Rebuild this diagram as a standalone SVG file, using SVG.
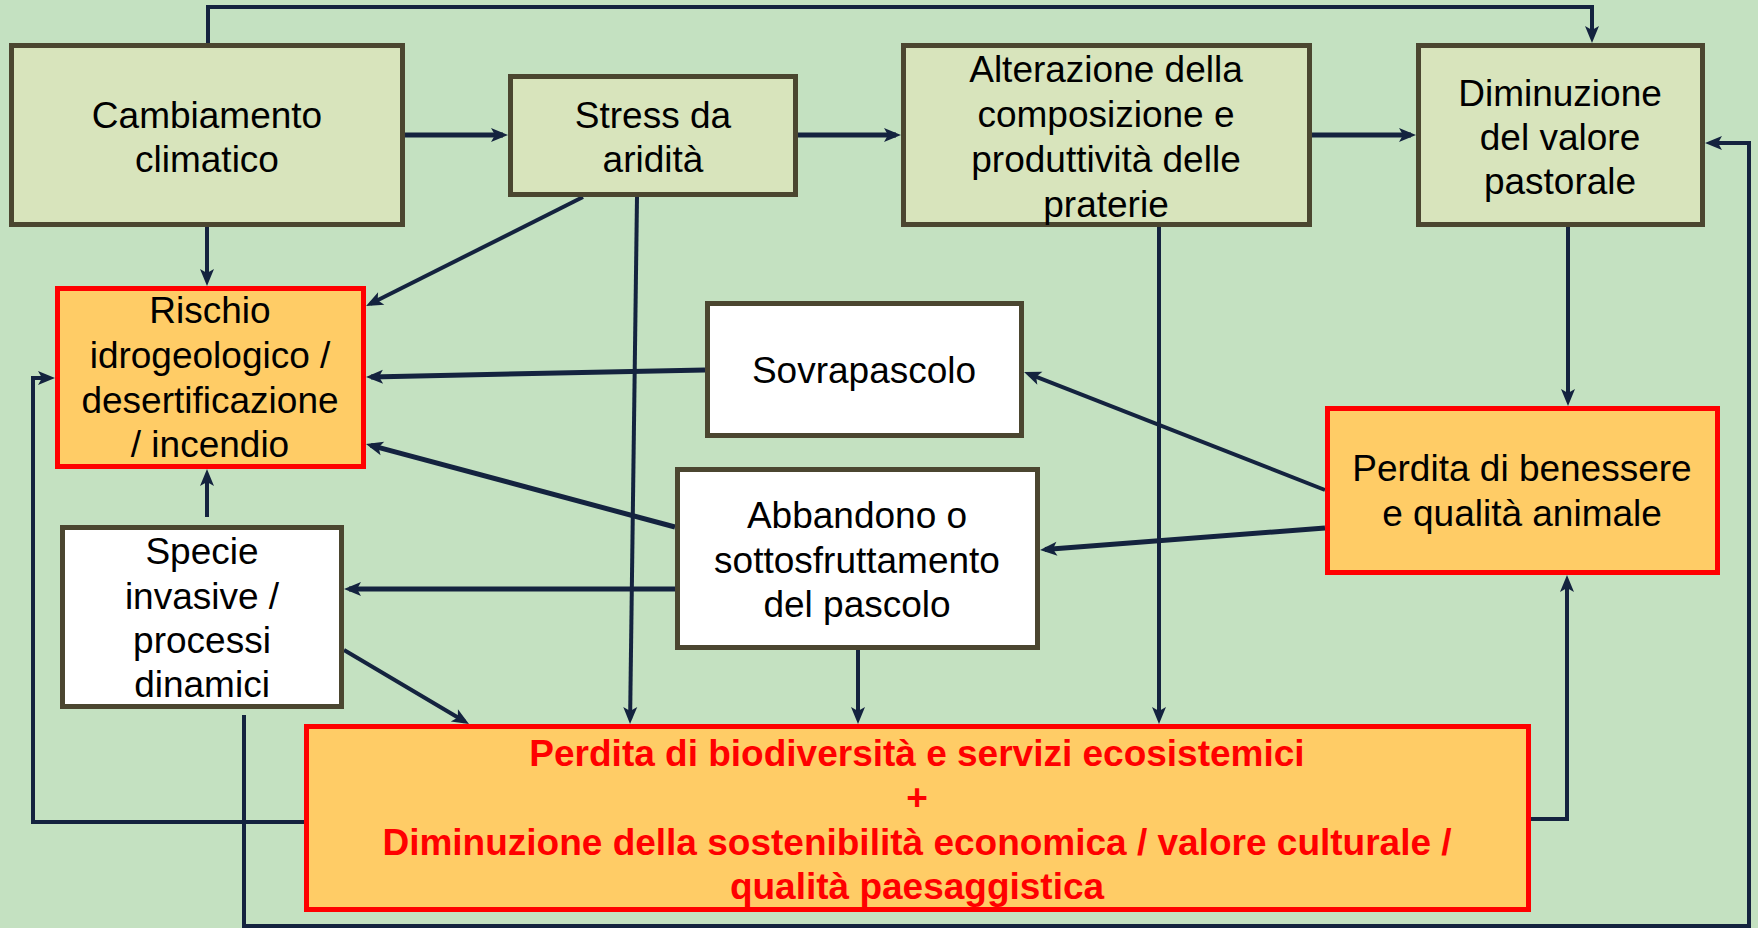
<svg xmlns="http://www.w3.org/2000/svg" width="1758" height="928" viewBox="0 0 1758 928">
  <style>
    .green { fill: #D8E4BC; stroke: #4B4630; stroke-width: 5; }
    .white { fill: #FFFFFF; stroke: #4B4630; stroke-width: 5; }
    .orange { fill: #FFCC66; stroke: #FF0000; stroke-width: 5; }
    text { font-family: "Liberation Sans", Arial, sans-serif; font-size: 37px; fill: #000000; text-anchor: middle; }
    .red { fill: #FF0000; font-weight: bold; }
    .c { fill: none; stroke: #14233F; stroke-linejoin: miter; }
    .w5 { stroke-width: 5; }
    .w4 { stroke-width: 4; }
  </style>
  <defs>
    <marker id="ah" viewBox="-13 -8 19 16" markerWidth="19" markerHeight="16" refX="0" refY="0" orient="auto" markerUnits="userSpaceOnUse">
      <path d="M-12,-7 L5,0 L-12,7 L-8,0 z" fill="#14233F"/>
    </marker>
  </defs>
  <rect x="0" y="0" width="1758" height="928" fill="#C4E1C1"/>

  <g id="connectors">
    <path class="c w5" d="M405,135 L503,135" marker-end="url(#ah)"/>
    <path class="c w5" d="M798,135 L896,135" marker-end="url(#ah)"/>
    <path class="c w5" d="M1312,135 L1411,135" marker-end="url(#ah)"/>
    <path class="c w4" d="M208,43 L208,7 L1592,7 L1592,38" marker-end="url(#ah)"/>
    <path class="c w4" d="M207,227 L207,281" marker-end="url(#ah)"/>
    <path class="c w4" d="M583,197 L370.5,303.8" marker-end="url(#ah)"/>
    <path class="c w4" d="M637,197 L630.1,719" marker-end="url(#ah)"/>
    <path class="c w4" d="M1159,227 L1159,719" marker-end="url(#ah)"/>
    <path class="c w4" d="M1568,227 L1568,401" marker-end="url(#ah)"/>
    <path class="c w4" d="M244,715 L244,926 L1749,926 L1749,143 L1710,143" marker-end="url(#ah)"/>
    <path class="c w4" d="M304,822 L33,822 L33,378 L50,378" marker-end="url(#ah)"/>
    <path class="c w5" d="M705,370 L371,376.9" marker-end="url(#ah)"/>
    <path class="c w5" d="M675,527 L370.8,445.3" marker-end="url(#ah)"/>
    <path class="c w5" d="M675,589 L349,589" marker-end="url(#ah)"/>
    <path class="c w4" d="M344,650 L464.7,721.5" marker-end="url(#ah)"/>
    <path class="c w4" d="M858,650 L858,719" marker-end="url(#ah)"/>
    <path class="c w4" d="M207,517 L207,474" marker-end="url(#ah)"/>
    <path class="c w4" d="M1325,490 L1028.7,373.8" marker-end="url(#ah)"/>
    <path class="c w5" d="M1325,528 L1045,549.6" marker-end="url(#ah)"/>
    <path class="c w4" d="M1531,819 L1567,819 L1567,580" marker-end="url(#ah)"/>
  </g>

  <g id="cambiamento">
    <rect class="green" x="11.5" y="45.5" width="391" height="179"/>
    <text x="207" y="128">Cambiamento</text>
    <text x="207" y="172">climatico</text>
  </g>
  <g id="stress">
    <rect class="green" x="510.5" y="76.5" width="285" height="118"/>
    <text x="653" y="128">Stress da</text>
    <text x="653" y="172">aridità</text>
  </g>
  <g id="alterazione">
    <rect class="green" x="903.5" y="45.5" width="406" height="179"/>
    <text x="1106" y="82">Alterazione della</text>
    <text x="1106" y="127">composizione e</text>
    <text x="1106" y="172">produttività delle</text>
    <text x="1106" y="217">praterie</text>
  </g>
  <g id="diminuzione">
    <rect class="green" x="1418.5" y="45.5" width="284" height="179"/>
    <text x="1560" y="106">Diminuzione</text>
    <text x="1560" y="150">del valore</text>
    <text x="1560" y="194">pastorale</text>
  </g>
  <g id="rischio">
    <rect class="orange" x="57.5" y="288.5" width="306" height="178"/>
    <text x="210" y="323">Rischio</text>
    <text x="210" y="368">idrogeologico /</text>
    <text x="210" y="413">desertificazione</text>
    <text x="210" y="457">/ incendio</text>
  </g>
  <g id="sovrapascolo">
    <rect class="white" x="707.5" y="303.5" width="314" height="132"/>
    <text x="864" y="383">Sovrapascolo</text>
  </g>
  <g id="abbandono">
    <rect class="white" x="677.5" y="469.5" width="360" height="178"/>
    <text x="857" y="528">Abbandono o</text>
    <text x="857" y="573">sottosfruttamento</text>
    <text x="857" y="617">del pascolo</text>
  </g>
  <g id="specie">
    <rect class="white" x="62.5" y="527.5" width="279" height="179"/>
    <text x="202" y="564">Specie</text>
    <text x="202" y="609">invasive /</text>
    <text x="202" y="653">processi</text>
    <text x="202" y="697">dinamici</text>
  </g>
  <g id="benessere">
    <rect class="orange" x="1327.5" y="408.5" width="390" height="164"/>
    <text x="1522" y="481">Perdita di benessere</text>
    <text x="1522" y="526">e qualità animale</text>
  </g>
  <g id="perdita-biodiversita">
    <rect class="orange" x="306.5" y="726.5" width="1222" height="183"/>
    <text class="red" x="917" y="766">Perdita di biodiversità e servizi ecosistemici</text>
    <text class="red" x="917" y="810">+</text>
    <text class="red" x="917" y="855">Diminuzione della sostenibilità economica / valore culturale /</text>
    <text class="red" x="917" y="899">qualità paesaggistica</text>
  </g>
</svg>
